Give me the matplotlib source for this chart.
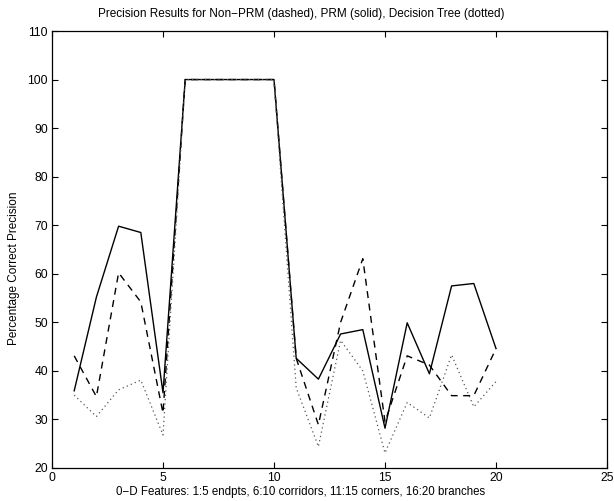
import matplotlib
matplotlib.use("Agg")
import matplotlib.pyplot as plt

plt.rcParams['font.family'] = ['Liberation Sans', 'DejaVu Sans']

features = list(range(1, 21))
non_prm = [43.1, 34.7, 60.2, 54.2, 31.3, 100, 100, 100, 100, 100,
           42.6, 28.9, 50.0, 63.1, 29.5, 43.1, 41.2, 34.9, 34.9, 44.6]
prm = [35.9, 55.2, 69.8, 68.5, 35.5, 100, 100, 100, 100, 100,
       42.6, 38.3, 47.6, 48.5, 28.2, 49.9, 39.4, 57.5, 58.0, 44.6]
decision_tree = [35.0, 30.6, 36.1, 38.1, 26.8, 100, 100, 100, 100, 100,
                 36.5, 24.4, 46.3, 40.0, 23.1, 33.5, 30.3, 43.3, 32.6, 37.8]

x_ticks = [0, 5, 10, 15, 20, 25]
y_ticks = [20, 30, 40, 50, 60, 70, 80, 90, 100, 110]

W, H = 614, 501
fig = plt.figure(figsize=(W / 100, H / 100), dpi=100)
ax = fig.add_axes([52 / W, 33 / H, 555 / W, 437 / H])

ax.plot(features, non_prm, color='black', lw=1.0, linestyle=(0, (5, 4)))
ax.plot(features, prm, color='black', lw=1.0, linestyle='-')
ax.plot(features, decision_tree, color='#555555', lw=0.9, linestyle=(0, (1, 2.5)))

ax.set_xlim(0, 25)
ax.set_ylim(20, 110)
ax.set_xticks(x_ticks)
ax.set_yticks(y_ticks)
ax.tick_params(direction='in', top=True, right=True, length=4, width=0.8,
               labelsize=8.7, pad=3)
for s in ax.spines.values():
    s.set_linewidth(0.9)

fig.text(301 / W, 1 - 14 / H,
         'Precision Results for Non\u2212PRM (dashed), PRM (solid), Decision Tree (dotted)',
         fontsize=8.5, ha='center', va='center')
fig.text(301 / W, 1 - 492 / H,
         '0\u2212D Features: 1:5 endpts, 6:10 corridors, 11:15 corners, 16:20 branches',
         fontsize=8.3, ha='center', va='center')
fig.text(14 / W, 1 - 268 / H, 'Percentage Correct Precision',
         fontsize=8.5, ha='center', va='center', rotation=90)

fig.savefig('out.png', dpi=100)
